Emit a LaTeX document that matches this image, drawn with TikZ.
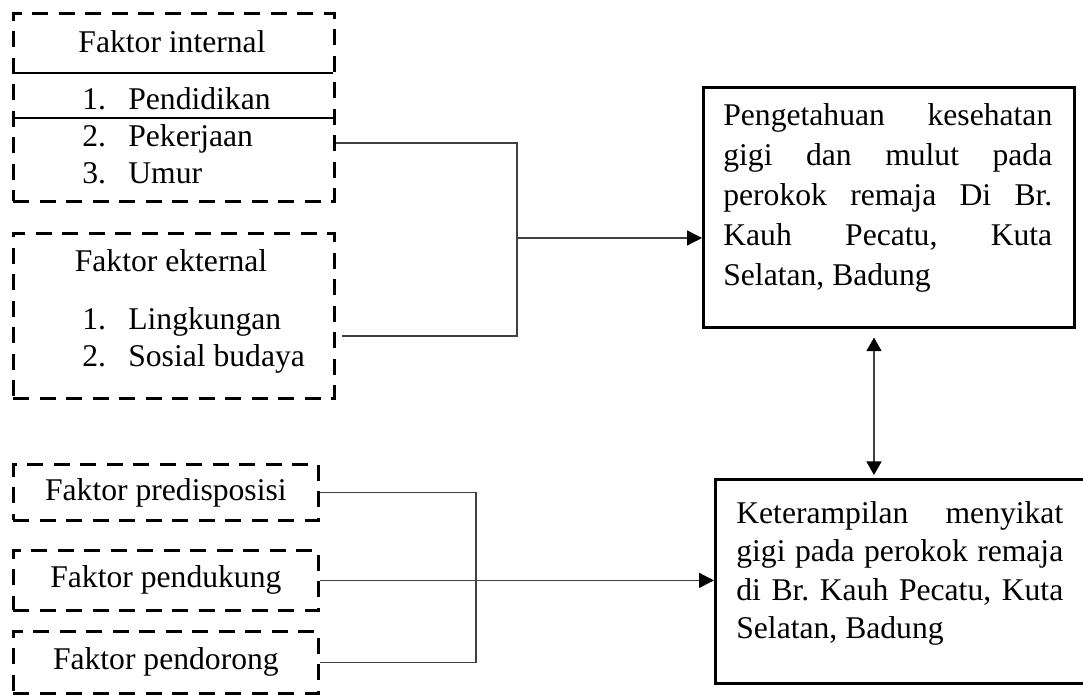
\documentclass[tikz,border=0pt]{standalone}
\usepackage{fontspec}
\setmainfont{Liberation Serif}
\usepackage{tikz}
\usetikzlibrary{arrows.meta,positioning}
\tikzstyle{faktor}=[draw,line width=1.6pt,dash pattern=on .32cm off .21cm,inner sep=0pt,anchor=north west]
\tikzstyle{hasil}=[draw,line width=1.5pt,inner sep=0pt,anchor=north west]
\tikzstyle{teks}=[inner sep=0pt]
\tikzstyle{line}=[draw=black!75,line width=.75pt]
\tikzstyle{arrow}=[line,-{Triangle[length=.3cm,width=.3cm,color=black]}]
\tikzstyle{both}=[line,{Triangle[length=.27cm,width=.3cm,color=black]}-{Triangle[length=.27cm,width=.3cm,color=black]}]

\begin{document}
\frenchspacing
\begin{tikzpicture}[x=.02cm, y=-.02cm, font=\fontsize{18}{22.8}\selectfont]
	\useasboundingbox (0,0) rectangle (1083,695);

	% faktor boxes
	\node[faktor,minimum width=6.42cm,minimum height=3.76cm] (int) at (12,12) {};
	\node[faktor,minimum width=6.42cm,minimum height=3.30cm] (ext) at (12,232) {};
	\node[faktor,minimum width=6.10cm,minimum height=1.12cm] (pred) at (12,463) {Faktor predisposisi};
	\node[faktor,minimum width=6.10cm,minimum height=1.20cm] (pend) at (12,549) {Faktor pendukung};
	\node[faktor,minimum width=6.10cm,minimum height=1.24cm] (pdr) at (12,630) {Faktor pendorong};

	\draw[black,line width=.75pt] (12,73) -- (333,73);
	\draw[black,line width=.75pt] (15,118) -- (333,118);

	\node[teks,anchor=base] (tint) at (172,53) {Faktor internal};
	\node[teks,anchor=base west] (n1) at (82,110) {1.};
	\node[teks,anchor=base west] (i1) at (128,110) {Pendidikan};
	\node[teks,anchor=base west] (n2) at (82,147) {2.};
	\node[teks,anchor=base west] (i2) at (128,147) {Pekerjaan};
	\node[teks,anchor=base west] (n3) at (82,184) {3.};
	\node[teks,anchor=base west] (i3) at (128,184) {Umur};

	\node[teks,anchor=base] (text) at (171,272) {Faktor ekternal};
	\node[teks,anchor=base west] (m1) at (82,330) {1.};
	\node[teks,anchor=base west] (e1) at (128,330) {Lingkungan};
	\node[teks,anchor=base west] (m2) at (82,367) {2.};
	\node[teks,anchor=base west] (e2) at (128,367) {Sosial budaya};

	% hasil boxes
	\node[hasil,minimum width=7.42cm,minimum height=4.80cm] (A) at (702,86) {};
	\node[hasil,minimum width=7.42cm,minimum height=4.08cm] (B) at (714,478) {};

	\node[teks,anchor=north west,text width=6.58cm,align=justify] (tA) at (723,103)
	{Pengetahuan kesehatan\linebreak gigi dan mulut pada\linebreak perokok remaja Di Br.\linebreak Kauh Pecatu, Kuta\linebreak Selatan, Badung};
	\node[teks,anchor=north west,text width=6.54cm,align=justify,font=\fontsize{18}{21.9}\selectfont] (tB) at (736,501)
	{Keterampilan menyikat\linebreak gigi pada perokok remaja\linebreak di Br. Kauh Pecatu, Kuta\linebreak Selatan, Badung};

	%connectors
	\coordinate (k1) at (517,143);
	\coordinate (k2) at (517,336);
	\coordinate (jA) at (517,238);
	\coordinate (k3) at (476,580);
	\coordinate (d) at (874,0);

	\draw[line] (k1 -| int.east) -- (k1) -- (k2) -- ([xshift=.12cm]k2 -| ext.east);
	\draw[arrow] (jA) -- (jA -| A.west);

	\draw[line] (pred.east) -| (k3) |- (pdr.east);
	\draw[arrow] (pend.east) -- (pend.east -| B.west);

	\draw[both,shorten <=.18cm,shorten >=.06cm] (A.south -| d) -- (B.north -| d);
\end{tikzpicture}
\end{document}
